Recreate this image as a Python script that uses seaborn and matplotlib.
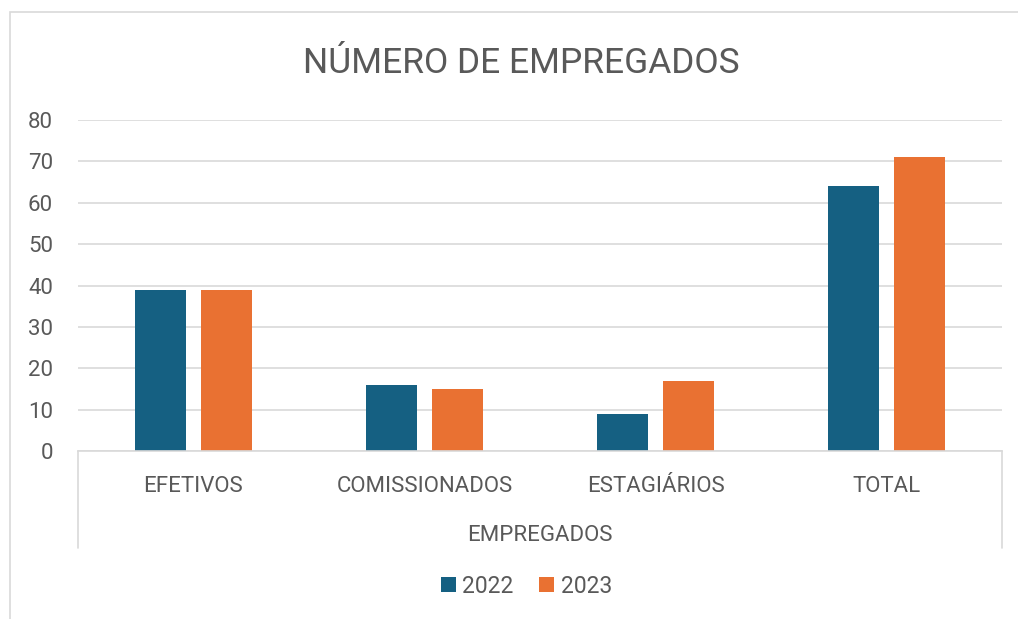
import pandas as pd
import seaborn as sns
from matplotlib import pyplot as plt
from matplotlib.lines import Line2D
from matplotlib.patches import Rectangle

categorias = ['EFETIVOS', 'COMISSIONADOS', 'ESTAGIÁRIOS', 'TOTAL']
anos = ['2022', '2023']
valores_2022 = [39, 16, 9, 64]
valores_2023 = [39, 15, 17, 71]
y_ticks = [0, 10, 20, 30, 40, 50, 60, 70, 80]

df = pd.DataFrame({
    'categoria': categorias * 2,
    'ano': [anos[0]] * 4 + [anos[1]] * 4,
    'valor': valores_2022 + valores_2023,
})

sns.set_theme(style='white')
plt.rcParams['font.family'] = ['Roboto', 'DejaVu Sans']
cinza = '#595959'
grade = '#D9D9D9'
cores = {'2022': '#156082', '2023': '#E97132'}
fs = 16

fig = plt.figure(figsize=(10.18, 6.19), dpi=100)
ax = fig.add_axes([0.0766, 0.2714, 0.9077, 0.5347])

sns.barplot(data=df, x='categoria', y='valor', hue='ano', palette=cores,
            width=0.571, gap=0.227, order=categorias, hue_order=anos,
            saturation=1, linewidth=0, ax=ax)

ax.set_ylim(0, 80)
ax.set_yticks(y_ticks)
ax.set_xlim(-0.5, 3.5)
ax.grid(axis='y', color=grade, linewidth=1.2)
ax.set_axisbelow(True)
for s in ['top', 'right', 'left']:
    ax.spines[s].set_visible(False)
ax.spines['bottom'].set_color(grade)
ax.spines['bottom'].set_linewidth(1.2)
ax.tick_params(axis='y', length=0, pad=18, labelsize=fs, labelcolor=cinza)
ax.tick_params(axis='x', length=0, pad=18, labelsize=fs, labelcolor=cinza)
ax.set_xlabel('EMPREGADOS', fontsize=fs, color=cinza, labelpad=20)
ax.set_ylabel('')

# multi-level category axis side lines
for xa in [0, 1]:
    ax.add_line(Line2D([xa, xa], [0, -0.293], transform=ax.transAxes,
                       color=grade, linewidth=1.2, clip_on=False))

fig.text(0.5123, 0.897, 'NÚMERO DE EMPREGADOS', ha='center', va='center',
         fontsize=25.5, color=cinza)

# chart border (top and left edges visible)
fig.add_artist(Rectangle((0.0098, -0.1), 1.1, 1.0806, transform=fig.transFigure,
                         fill=False, edgecolor=grade, linewidth=1.2))

sns.move_legend(ax, 'center', bbox_to_anchor=(0.517, 0.053),
                bbox_transform=fig.transFigure, ncol=2, frameon=False,
                title=None, fontsize=16.5, handlelength=0.65, handleheight=0.65,
                handletextpad=0.3, columnspacing=1.1)
for t in ax.get_legend().get_texts():
    t.set_color(cinza)

plt.savefig('out.png', dpi=100)
